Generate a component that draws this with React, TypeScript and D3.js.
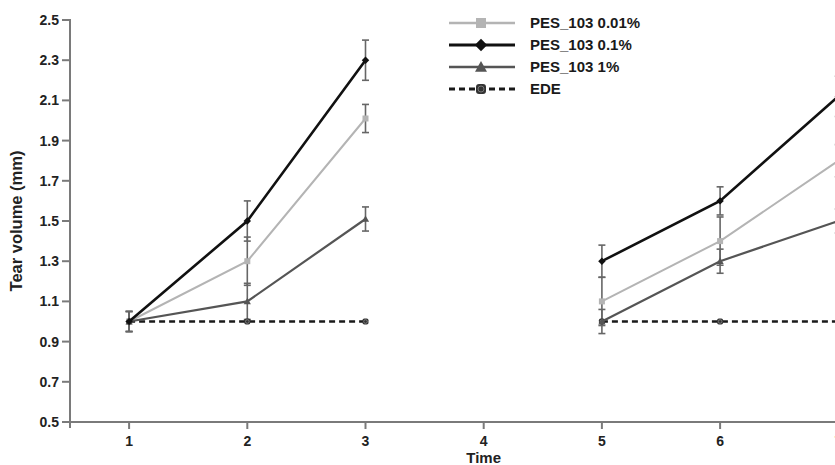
import { useEffect, useRef } from 'react'
import * as d3 from 'd3'

const TIMES = [1, 2, 3, 4, 5, 6, 7]
const X_TICKS = [1, 2, 3, 4, 5, 6, 7]
const Y_TICKS = [0.5, 0.7, 0.9, 1.1, 1.3, 1.5, 1.7, 1.9, 2.1, 2.3, 2.5]

// null = no measurement at that time point
const PES_001 = [1.0, 1.3, 2.01, null, 1.1, 1.4, 1.8]
const PES_001_ERR = [0.05, 0.12, 0.07, null, 0.12, 0.12, 0.08]
const PES_01 = [1.0, 1.5, 2.3, null, 1.3, 1.6, 2.12]
const PES_01_ERR = [0.05, 0.1, 0.1, null, 0.08, 0.07, 0.1]
const PES_1 = [1.0, 1.1, 1.51, null, 1.0, 1.3, 1.5]
const PES_1_ERR = [0.05, 0.09, 0.06, null, 0.06, 0.06, 0.06]
const EDE = [1.0, 1.0, 1.0, null, 1.0, 1.0, 1.0]
const EDE_ERR = [0.01, 0.01, 0.01, null, 0.01, 0.01, 0.01]

type Series = {
  name: string
  values: (number | null)[]
  errors: (number | null)[]
  color: string
  width: number
  dash?: string
  marker: 'square' | 'diamond' | 'triangle' | 'circlebox'
}

const SERIES: Series[] = [
  { name: 'PES_103 0.01%', values: PES_001, errors: PES_001_ERR, color: '#b4b4b4', width: 2, marker: 'square' },
  { name: 'PES_103 0.1%', values: PES_01, errors: PES_01_ERR, color: '#111111', width: 2.6, marker: 'diamond' },
  { name: 'PES_103 1%', values: PES_1, errors: PES_1_ERR, color: '#555555', width: 2.2, marker: 'triangle' },
  { name: 'EDE', values: EDE, errors: EDE_ERR, color: '#1a1a1a', width: 2.4, dash: '6,4', marker: 'circlebox' },
]

const FONT = '"Liberation Sans", Arial, sans-serif'

function drawMarker(g: any, kind: string, x: number, y: number, s: number, color: string) {
  if (kind === 'square') {
    g.append('rect').attr('x', x - s / 2).attr('y', y - s / 2).attr('width', s).attr('height', s).attr('fill', color)
  } else if (kind === 'diamond') {
    const r = s * 0.62
    g.append('path').attr('d', `M${x},${y - r}L${x + r},${y}L${x},${y + r}L${x - r},${y}Z`).attr('fill', color)
  } else if (kind === 'triangle') {
    const r = s * 0.6
    g.append('path').attr('d', `M${x},${y - r}L${x + r},${y + r * 0.8}L${x - r},${y + r * 0.8}Z`).attr('fill', color)
  } else {
    g.append('rect').attr('x', x - s / 2).attr('y', y - s / 2).attr('width', s).attr('height', s)
      .attr('rx', s * 0.3).attr('fill', '#333')
    g.append('circle').attr('cx', x).attr('cy', y).attr('r', s * 0.3).attr('fill', 'none').attr('stroke', '#888').attr('stroke-width', 0.8)
  }
}

export default function App() {
  const svgRef = useRef<SVGSVGElement>(null)

  useEffect(() => {
    const W = 835
    const H = 465
    const svg = d3.select(svgRef.current)
    svg.selectAll('*').remove()
    svg.attr('width', W).attr('height', H)

    const x = d3.scaleLinear().domain([0.5, 7.5]).range([70, 70 + 7 * 118.2])
    const y = d3.scaleLinear().domain([0.5, 2.5]).range([422, 20])
    const axisColor = '#7a7a7a'

    const g: any = svg.append('g')

    // Axes
    g.append('line').attr('x1', 64).attr('x2', W + 10).attr('y1', y(0.5)).attr('y2', y(0.5))
      .attr('stroke', axisColor).attr('stroke-width', 2)
    g.append('line').attr('x1', 70).attr('x2', 70).attr('y1', y(2.5) - 1).attr('y2', y(0.5) + 6)
      .attr('stroke', axisColor).attr('stroke-width', 2)

    Y_TICKS.forEach((t) => {
      g.append('line').attr('x1', 62).attr('x2', 70).attr('y1', y(t)).attr('y2', y(t))
        .attr('stroke', axisColor).attr('stroke-width', 2)
      g.append('text').attr('x', 59).attr('y', y(t)).attr('dy', '0.36em').attr('text-anchor', 'end')
        .attr('font-family', FONT).attr('font-weight', 'bold').attr('font-size', 14).attr('fill', '#222')
        .text(t.toFixed(1))
    })
    X_TICKS.forEach((t) => {
      g.append('line').attr('x1', x(t)).attr('x2', x(t)).attr('y1', y(0.5)).attr('y2', y(0.5) + 7)
        .attr('stroke', axisColor).attr('stroke-width', 2)
      g.append('text').attr('x', x(t)).attr('y', 446).attr('text-anchor', 'middle')
        .attr('font-family', FONT).attr('font-weight', 'bold').attr('font-size', 14).attr('fill', '#222')
        .text(String(t))
    })

    g.append('text').attr('x', x(4)).attr('y', 463).attr('text-anchor', 'middle')
      .attr('font-family', FONT).attr('font-weight', 'bold').attr('font-size', 15).attr('fill', '#222')
      .text('Time')
    g.append('text').attr('transform', `translate(22,${(y(0.5) + y(2.5)) / 2})`+ ' rotate(-90)')
      .attr('text-anchor', 'middle')
      .attr('font-family', FONT).attr('font-weight', 'bold').attr('font-size', 16.5).attr('fill', '#222')
      .text('Tear volume (mm)')

    // Error bars
    SERIES.forEach((s) => {
      s.values.forEach((v, i) => {
        const e = s.errors[i]
        if (v == null || e == null || e < 0.02) return
        const cx = x(TIMES[i])
        const eb = g.append('g').attr('stroke', '#666').attr('stroke-width', 1.6)
        eb.append('line').attr('x1', cx).attr('x2', cx).attr('y1', y(v + e)).attr('y2', y(v - e))
        eb.append('line').attr('x1', cx - 3.5).attr('x2', cx + 3.5).attr('y1', y(v + e)).attr('y2', y(v + e))
        eb.append('line').attr('x1', cx - 3.5).attr('x2', cx + 3.5).attr('y1', y(v - e)).attr('y2', y(v - e))
      })
    })

    // Lines (back to front: EDE, 0.01%, 1%, 0.1%)
    const order = [3, 0, 2, 1]
    order.forEach((k) => {
      const s = SERIES[k]
      const pts = TIMES.map((t, i) => ({ t, v: s.values[i] }))
      const line = d3.line<{ t: number; v: number | null }>()
        .defined((d) => d.v != null)
        .x((d) => x(d.t))
        .y((d) => y(d.v as number))
      g.append('path').datum(pts).attr('d', line).attr('fill', 'none')
        .attr('stroke', s.color).attr('stroke-width', s.width)
        .attr('stroke-dasharray', s.dash ?? null)
      pts.forEach((d) => {
        if (d.v == null) return
        drawMarker(g, s.marker, x(d.t), y(d.v), 6, s.color)
      })
    })

    // Legend
    const legend = g.append('g')
    SERIES.forEach((s, i) => {
      const ly = 23 + i * 22
      legend.append('line').attr('x1', 449).attr('x2', 515).attr('y1', ly).attr('y2', ly)
        .attr('stroke', s.color).attr('stroke-width', s.width + 0.4)
        .attr('stroke-dasharray', s.dash ?? null)
      drawMarker(legend, s.marker, 481, ly, 10, s.color)
      legend.append('text').attr('x', 530).attr('y', ly).attr('dy', '0.36em')
        .attr('font-family', FONT).attr('font-weight', 'bold').attr('font-size', 15).attr('fill', '#1a1a1a')
        .text(s.name)
    })

    return () => {
      svg.selectAll('*').remove()
    }
  }, [])

  return (
    <div style={{ position: 'absolute', left: 0, top: 0, width: 835, height: 465, overflow: 'hidden', background: '#fff' }}>
      <svg ref={svgRef} style={{ display: 'block' }} />
    </div>
  )
}
